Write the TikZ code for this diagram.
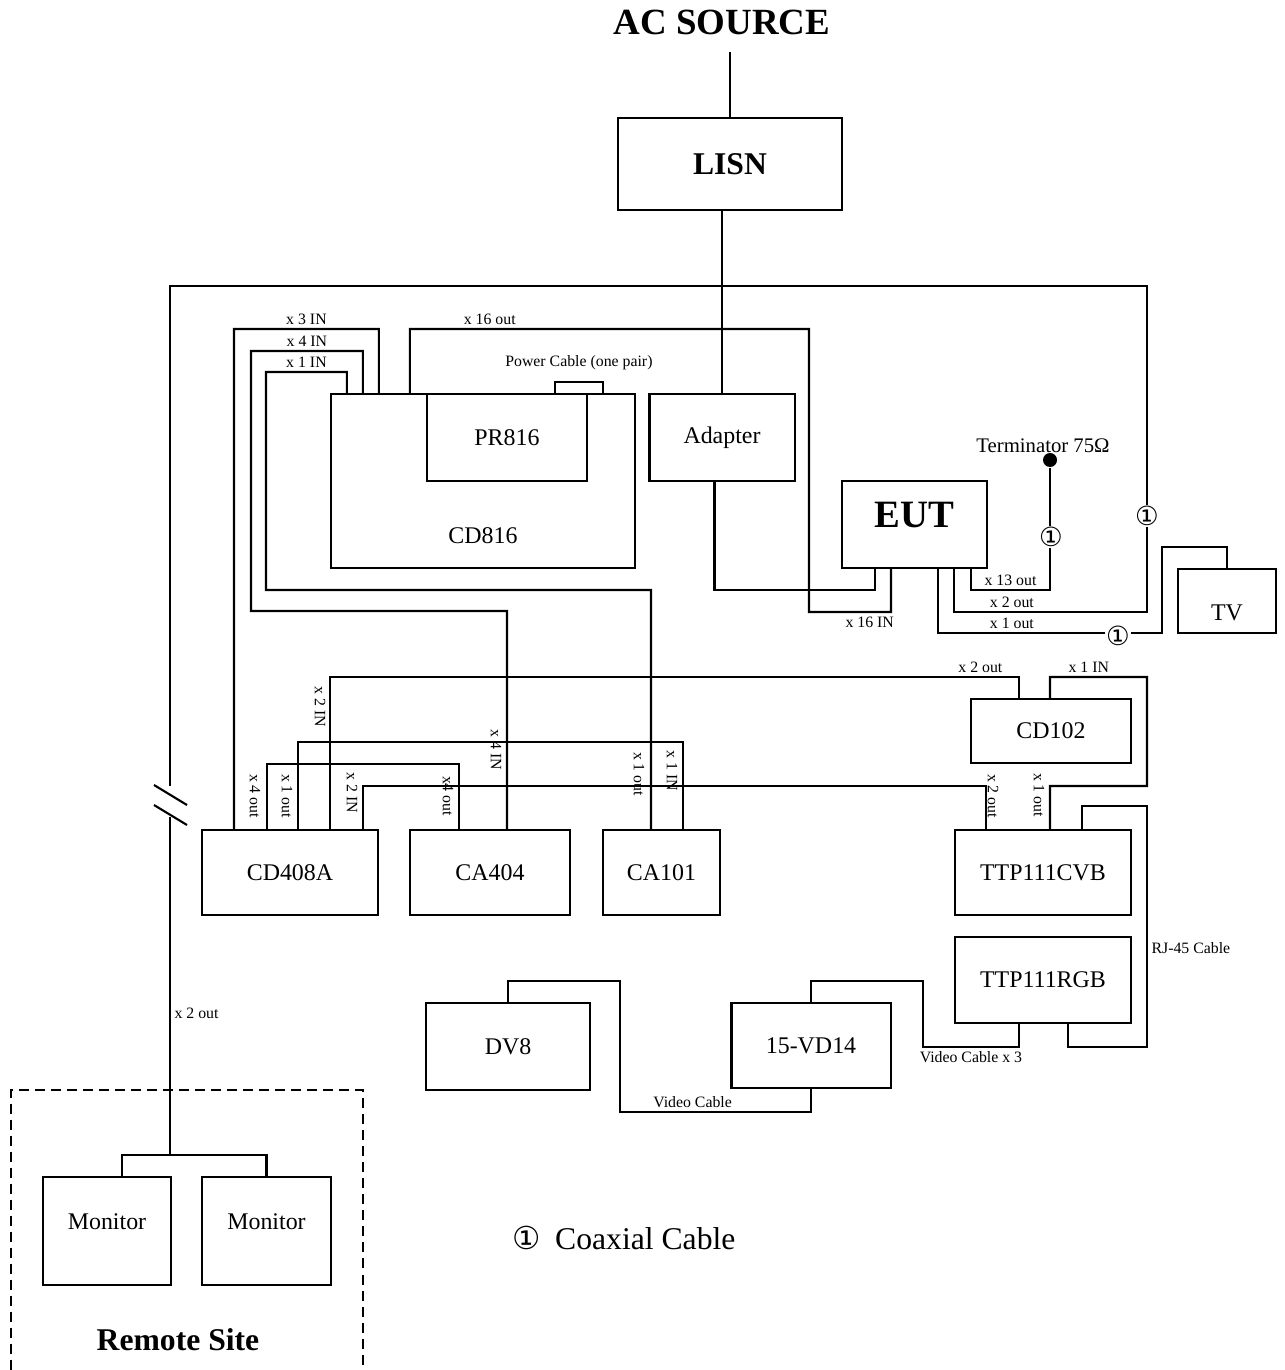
\documentclass[tikz,border=0pt]{standalone}
\usepackage{fontspec}
\setmainfont{Liberation Serif}
\newfontfamily\symfont{DejaVu Sans}
\usetikzlibrary{calc,positioning}

\begin{document}
\begin{tikzpicture}[x=0.01cm, y=-0.01cm,
  wire/.style={line width=0.6pt},
  boxfont/.style={font=\fontsize{6.8}{8}\selectfont},
  box/.style={draw, line width=0.6pt, inner sep=0pt, outer sep=0pt, boxfont},
  lbl/.style={font=\fontsize{4.5}{5.4}\selectfont, inner sep=1pt},
  vlbl/.style={lbl, rotate=-90},
  coax/.style={fill=white, inner sep=0.3pt, font=\symfont\fontsize{7.5}{8}\selectfont},
  heading/.style={font=\bfseries\fontsize{#1}{#1}\selectfont}]
  \useasboundingbox (0,0) rectangle (1284,1370);

  % source side
  \node[heading=10.5] (acsrc) at (722,22) {AC SOURCE};
  \node[box, minimum width=2.24cm, minimum height=0.92cm, font=\bfseries\fontsize{9}{10}\selectfont] (lisn) at (730,164) {LISN};
  \draw[wire] (lisn.north) -- ++(0,-66);

  % equipment
  \node[box, minimum width=3.04cm, minimum height=1.74cm, label={[boxfont, yshift=-0.55cm]center:CD816}] (cd816) at (483,481) {};
  \node[box, minimum width=1.60cm, minimum height=0.87cm] (pr816) at (507,437.5) {PR816};
  \node[box, minimum width=1.45cm, minimum height=0.87cm] (adapter) at (722,437.5) {Adapter};
  \node[box, minimum width=1.45cm, minimum height=0.87cm, label={[heading=11, yshift=0.09cm]center:EUT}] (eut) at (914.5,524.5) {};
  \node[box, minimum width=0.98cm, minimum height=0.64cm, label={[boxfont, yshift=-0.12cm]center:TV}] (tv) at (1227,601) {};
  \node[box, minimum width=1.60cm, minimum height=0.64cm] (cd102) at (1051,731) {CD102};
  \node[box, minimum width=1.76cm, minimum height=0.85cm] (cd408) at (290,872.5) {CD408A};
  \node[box, minimum width=1.60cm, minimum height=0.85cm] (ca404) at (490,872.5) {CA404};
  \node[box, minimum width=1.17cm, minimum height=0.85cm] (ca101) at (661.5,872.5) {CA101};
  \node[box, minimum width=1.76cm, minimum height=0.85cm] (cvb) at (1043,872.5) {TTP111CVB};
  \node[box, minimum width=1.76cm, minimum height=0.86cm] (rgb) at (1043,980) {TTP111RGB};
  \node[box, minimum width=1.64cm, minimum height=0.87cm] (dv8) at (508,1046.5) {DV8};
  \node[box, minimum width=1.59cm, minimum height=0.85cm] (vd14) at (811,1045.5) {15-VD14};
  \node[box, minimum width=1.28cm, minimum height=1.08cm, label={[boxfont, yshift=0.09cm]center:Monitor}] (mon1) at (107,1231) {};
  \node[box, minimum width=1.29cm, minimum height=1.08cm, label={[boxfont, yshift=0.09cm]center:Monitor}] (mon2) at (266.5,1231) {};
  \node[circle, fill, inner sep=0pt, minimum size=0.14cm] (term) at (1050,460) {};
  \node[font=\fontsize{5.9}{7}\selectfont, inner sep=0pt] (termlbl) at (1043,446) {Terminator 75Ω};

  % power
  \draw[wire] (lisn.south -| adapter.north) -- (adapter.north);
  \draw[wire] ($(cd816.north west)+(224,0)$) -- ++(0,-12) -| ($(cd816.north west)+(272,0)$)
    node[lbl, above=0.08cm, pos=0.25] (lpow) {Power Cable (one pair)};
  \draw[wire] ($(adapter.south west)+(65,0)$) |- ($(eut.south west)+(33,22)$) -- ($(eut.south west)+(33,0)$);

  % CD816 cables
  \draw[wire] ($(cd816.north west)+(48,0)$) |- (234,329) node[lbl, above, pos=0.75] (lx3) {x 3 IN}
    -- ($(cd408.north west)+(32,0)$);
  \draw[wire] ($(cd816.north west)+(32,0)$) |- (251,351) node[lbl, above, pos=0.75] (lx4) {x 4 IN}
    |- (507,611) -- ($(ca404.north west)+(97,0)$);
  \draw[wire] ($(cd816.north west)+(16,0)$) |- (266,372) node[lbl, above, pos=0.75] (lx1) {x 1 IN}
    |- (651,590) -- ($(ca101.north west)+(48,0)$);
  \draw[wire] ($(cd816.north west)+(79,0)$) |- (809,329) node[lbl, above, pos=0.6] (lx16o) {x 16 out}
    |- (891,612) node[lbl, below, pos=0.87] (lx16i) {x 16 IN} -- ($(eut.south west)+(49,0)$);

  % EUT outputs
  \coordinate (brkA) at (170,786);
  \coordinate (brkB) at (170,817);
  \coordinate (split) at (170,1155);
  \draw[wire] ($(eut.south west)+(112,0)$) |- (1147,612) node[lbl, above, pos=0.65] (lx2a) {x 2 out}
    |- (170,286) -- (brkA);
  \draw[wire] (brkA) ++(-16,-1) -- ++(33,20) (brkB) ++(-16,-12) -- ++(33,20);
  \draw[wire] (brkB) -- (split) node[lbl, right, pos=0.58] (lx2b) {x 2 out};
  \draw[wire] ($(mon1.north west)+(79,0)$) |- (split) -| (mon2.north);
  \draw[wire] ($(eut.south west)+(129,0)$) |- ($(term)+(0,130)$) node[lbl, above, pos=0.75] (lx13) {x 13 out} -- (term);
  \draw[wire] ($(eut.south west)+(96,0)$) |- (1162,633) node[lbl, above, pos=0.665] (lx1o) {x 1 out}
    -- (1162,547) -| (tv.north);

  % CD102 / TTP111 cables
  \draw[wire] ($(cd102.north west)+(48,0)$) |- ($(cd408.north west)+(128,-153)$) node[lbl, above, pos=0.528] (lc2o) {x 2 out}
    -- ($(cd408.north west)+(128,0)$);
  \draw[wire] ($(cd102.north west)+(79,0)$) |- (1147,677) node[lbl, above, pos=0.7] (lc1i) {x 1 IN}
    |- (1050,786) -- ($(cvb.north west)+(95,0)$);
  \draw[wire] ($(cvb.north west)+(31,0)$) |- ($(cd408.north west)+(161,-44)$) -- ($(cd408.north west)+(161,0)$);
  \draw[wire] ($(cd408.north west)+(96,0)$) |- ($(ca101.north west)+(80,-88)$) -- ($(ca101.north west)+(80,0)$);
  \draw[wire] ($(cd408.north west)+(65,0)$) |- ($(ca404.north west)+(49,-66)$) -- ($(ca404.north west)+(49,0)$);
  \draw[wire] ($(rgb.south west)+(113,0)$) |- (1147,1047) |- ($(cvb.north west)+(127,-24)$)
    node[lbl, right, pos=0.205] (lrj) {RJ-45 Cable} -- ($(cvb.north west)+(127,0)$);

  % video cables
  \draw[wire] (dv8.north) |- (620,981) |- ($(vd14.south)+(0,24)$) node[lbl, above, pos=0.69] (lvid) {Video Cable} -- (vd14.south);
  \draw[wire] (vd14.north) |- (923,981) |- ($(rgb.south west)+(64,24)$) node[lbl, below, pos=0.75] (lvid3) {Video Cable x 3}
    -- ($(rgb.south west)+(64,0)$);

  % port labels
  \foreach \nm/\px/\py/\txt in {va/320/707/x 2 IN, vb/255/796/x 4 out, vc/287/796/x 1 out, vd/352/793/x 2 IN,
      ve/448/796/x4 out, vf/496/750/x 4 IN, vg/639/774/x 1 out, vh/672/771/x 1 IN, vi/993/796/x 2 out, vj/1039/795/x 1 out}
    \node[vlbl] (\nm) at (\px,\py) {\txt};

  % coaxial marks
  \foreach \nm/\px/\py in {cxa/1147/516, cxb/1051/537, cxc/1118/636}
    \node[coax] (\nm) at (\px,\py) {①};

  % remote site
  \draw[line width=0.7pt, dash pattern=on 0.1cm off 0.06cm] (11,1370) -- (11,1090) -- (363,1090) -- (363,1370);
  \node[heading=9] (remote) at (178,1340) {Remote Site};

  \node[font=\fontsize{9}{11}\selectfont] (legend) at (624,1238) {{\symfont ①}\hspace{0.45em}Coaxial Cable};
\end{tikzpicture}
\end{document}
